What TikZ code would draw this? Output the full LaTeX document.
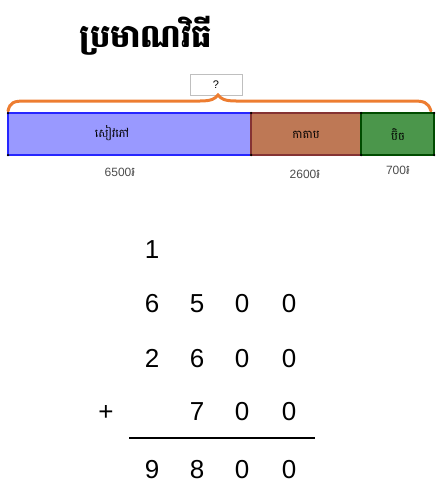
\documentclass[tikz,border=0pt]{standalone}
\usepackage{fontspec}
\setmainfont{Liberation Sans}
\newfontfamily\khmerfont[Script=Khmer]{Battambang}
\usepackage{tikz}
\usetikzlibrary{calc,positioning}
\definecolor{braceorange}{RGB}{237,125,49}
\definecolor{bookfill}{RGB}{153,153,255}
\definecolor{bagfill}{RGB}{190,120,85}
\definecolor{penfill}{RGB}{75,150,75}
\tikzset{
  part/.style={draw,line width=1.2pt},
  partlabel/.style={font=\khmerfont\fontsize{11.5}{13}\selectfont},
  price/.style={font=\fontsize{12}{14}\selectfont,text=black!70},
  digit/.style={font=\fontsize{26}{28}\selectfont,anchor=base},
  corner/.style={circle,fill=black,inner sep=0pt,minimum size=2.5pt}
}
\begin{document}
\begin{tikzpicture}[x=1pt,y=-1pt]
      \useasboundingbox (0,0) rectangle (438,495);
      % title
      \node[font=\khmerfont\bfseries\fontsize{32}{36}\selectfont] (title) at (146,36) {ប្រមាណវិធី};
      % question box
      \node[draw=black!25,line width=1pt,minimum width=52pt,minimum height=21pt,inner sep=0pt,font=\fontsize{11}{12}\selectfont] (ask) at (216,85) {?};
      % brace
      \draw[braceorange,line width=3pt,line cap=round] (8,111) .. controls (10,102) and (14,101) .. (26,101)
            -- (200,101) .. controls (211,101) and (215,99) .. (218,95)
            .. controls (221,99) and (225,101) .. (236,101) -- (412,101)
            .. controls (424,101) and (428,102) .. (431,111);
      % bar parts
      \filldraw[part,fill=bookfill,draw=blue!85] (8,113) rectangle (251,155);
      \filldraw[part,fill=bagfill,draw=red!40!black!80] (251,113) rectangle (361,155);
      \filldraw[part,fill=penfill,draw=green!30!black] (361,113) rectangle (434,155);
      % mark corners
      \foreach \cx in {8,251,361,434}
        \foreach \cy in {113,155}
          \node[corner] at (\cx,\cy) {};
      % part names
      \node[partlabel] (book) at (112,133) {សៀវភៅ};
      \node[partlabel] (bag) at (306,135) {កាតាប};
      \node[partlabel] (pen) at (398,135) {ប៊ិច};
      % prices
      \node[price] (bookprice) at (120,172) {6500{\khmerfont\fontsize{13}{14}\selectfont ៛}};
      \node[price] (bagprice) at (305,174) {2600{\khmerfont\fontsize{13}{14}\selectfont ៛}};
      \node[price] (penprice) at (398,170) {700{\khmerfont\fontsize{13}{14}\selectfont ៛}};
      % column addition
      \node[digit] (carry) at (152,258) {1};
      \foreach \d/\cx [count=\i] in {6/152,5/197,0/242,0/289}
        \node[digit] (a\i) at (\cx,312) {\d};
      \foreach \d/\cx [count=\i] in {2/152,6/197,0/242,0/289}
        \node[digit] (b\i) at (\cx,367) {\d};
      \foreach \d/\cx [count=\i] in {7/197,0/242,0/289}
        \node[digit] (c\i) at (\cx,420) {\d};
      \node[digit] (plus) at (106,420) {+};
      \foreach \d/\cx [count=\i] in {9/152,8/197,0/242,0/289}
        \node[digit] (s\i) at (\cx,478) {\d};
      % sum line
      \coordinate (lineL) at (129,438);
      \coordinate (lineR) at (315,438);
      \draw[line width=1.3pt] (lineL) -- (lineR);
\end{tikzpicture}
\end{document}
